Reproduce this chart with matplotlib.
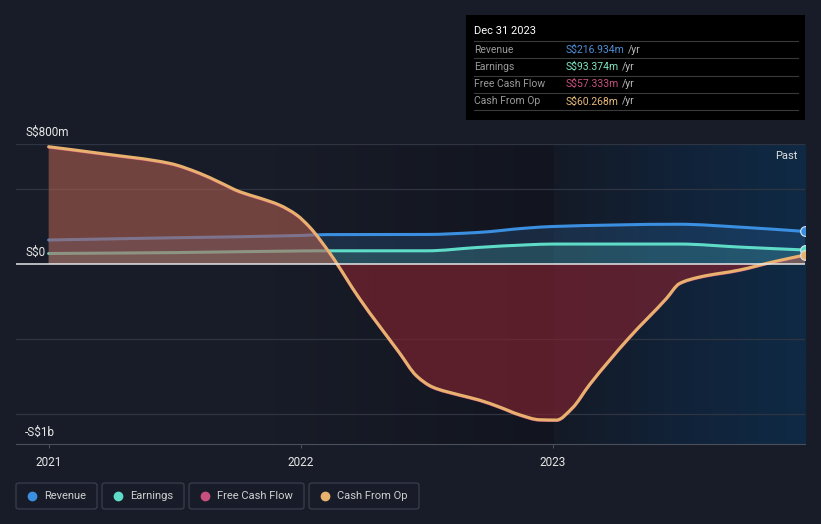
import numpy as np
import matplotlib
matplotlib.use("Agg")
import matplotlib.pyplot as plt
from matplotlib.patches import FancyBboxPatch, Rectangle, PathPatch
from matplotlib.path import Path
from matplotlib.colors import LinearSegmentedColormap

plt.rcParams['font.family'] = ['Roboto', 'DejaVu Sans']

# ---- data (S$ millions, time in fractional years) ----
cfo_t = [2021.000, 2021.203, 2021.481, 2021.599, 2021.678, 2021.758, 2021.837,
         2021.916, 2021.984, 2022.035, 2022.115, 2022.233, 2022.392, 2022.459,
         2022.523, 2022.630, 2022.709, 2022.788, 2022.868, 2022.947, 2023.014,
         2023.077, 2023.145, 2023.303, 2023.450, 2023.502, 2023.581, 2023.740,
         2023.870, 2024.000]
cfo_v = [782, 738, 671, 605, 545, 482, 440,
         393, 327, 247, 73, -230, -593, -745,
         -820, -873, -907, -953, -1005, -1038, -1040,
         -960, -805, -490, -230, -130, -87, -40,
         13, 60.268]
fcf_v = [778, 734, 667, 601, 541, 478, 436,
         389, 323, 243, 69, -234, -597, -749,
         -824, -877, -911, -957, -1009, -1042, -1044,
         -964, -809, -494, -234, -134, -91, -44,
         10, 57.333]

rev_t = [2021.00, 2021.50, 2022.00, 2022.10, 2022.50, 2022.70, 2022.90, 2023.00,
         2023.50, 2023.75, 2024.00]
rev_v = [160, 175, 190, 196, 197, 210, 240, 250, 265, 245, 216.934]
earn_v = [70, 76, 87, 88, 88, 110, 128, 133, 133, 112, 93.374]

year_ticks = [2021, 2022, 2023]
year_labels = ['2021', '2022', '2023']
y_grid = [800, 500, -500, -1000]

C_BG = '#181c28'
C_REV = '#3b8fe0'
C_EARN = '#5fdcc8'
C_FCF = '#c8507e'
C_CFO = '#e8b26e'

W, H = 821, 524
fig = plt.figure(figsize=(W / 100, H / 100), dpi=100, facecolor=C_BG)


def fx(px):
    return px / W


def fy(py):
    return 1 - py / H


def smooth_path(xs, ys):
    # monotone cubic curve drawn as bezier segments (like d3 curveMonotoneX)
    x = np.asarray(xs, float)
    y = np.asarray(ys, float)
    h = np.diff(x)
    d = np.diff(y) / h
    m = np.zeros_like(y)
    m[0], m[-1] = d[0], d[-1]
    for i in range(1, len(y) - 1):
        if d[i - 1] * d[i] <= 0:
            m[i] = 0
        else:
            w1 = 2 * h[i] + h[i - 1]
            w2 = h[i] + 2 * h[i - 1]
            m[i] = (w1 + w2) / (w1 / d[i - 1] + w2 / d[i])
    verts = [(x[0], y[0])]
    codes = [Path.MOVETO]
    for i in range(len(x) - 1):
        verts += [(x[i] + h[i] / 3, y[i] + m[i] * h[i] / 3),
                  (x[i + 1] - h[i] / 3, y[i + 1] - m[i + 1] * h[i] / 3),
                  (x[i + 1], y[i + 1])]
        codes += [Path.CURVE4] * 3
    return verts, codes


def draw_line(ax, xs, ys, color, lw, z):
    v, c = smooth_path(xs, ys)
    ax.add_patch(PathPatch(Path(v, c), facecolor='none', edgecolor=color,
                           lw=lw, zorder=z, capstyle='round'))


def draw_fill(ax, xs, ys, color, alpha, z, clip=None):
    v, c = smooth_path(xs, ys)
    v = v + [(xs[-1], 0), (xs[0], 0), (xs[0], ys[0])]
    c = c + [Path.LINETO, Path.LINETO, Path.CLOSEPOLY]
    p = PathPatch(Path(v, c), facecolor=color, edgecolor='none', alpha=alpha, zorder=z)
    ax.add_patch(p)
    if clip is not None:
        r = Rectangle((2020, clip[0]), 5, clip[1] - clip[0], transform=ax.transData)
        p.set_clip_path(r)


ax = fig.add_axes([fx(16), fy(444), fx(805) - fx(16), fy(144) - fy(444)])
ax.set_facecolor(C_BG)
x0 = 2021 - (48.7 - 16) / 252.4
ax.set_xlim(x0, 2024.0)
ax.set_ylim(-1200, 800)

# past shading gradient
grad = LinearSegmentedColormap.from_list('g', ['#141a26', '#112238', '#0f2a45'])
ax.imshow(np.linspace(0, 1, 200).reshape(1, -1), cmap=grad, aspect='auto',
          extent=[2023.0, 2024.0, -1200, 800], zorder=0)
ax.imshow(np.linspace(0, 1, 200).reshape(1, -1),
          cmap=LinearSegmentedColormap.from_list('d', [C_BG, '#12151f']),
          aspect='auto', extent=[2021.9, 2023.0, -1200, 800], zorder=0)

for g in y_grid:
    ax.axhline(g, color='#2f3442', lw=0.9, zorder=1)

# revenue / earnings
draw_fill(ax, rev_t, rev_v, C_REV, 0.18, 2)
draw_fill(ax, rev_t, earn_v, C_EARN, 0.18, 2)
draw_line(ax, rev_t, rev_v, C_REV, 2.2, 3)
draw_line(ax, rev_t, earn_v, C_EARN, 2.2, 3)

# cash flows
draw_fill(ax, cfo_t, cfo_v, '#b0604f', 0.58, 4, clip=(0, 800))
draw_fill(ax, cfo_t, cfo_v, '#7a2230', 0.7, 4, clip=(-1200, 0))
draw_line(ax, cfo_t, fcf_v, C_FCF, 2.0, 5)
draw_line(ax, cfo_t, cfo_v, C_CFO, 2.2, 6)

ax.axhline(0, color='#e6e6e6', lw=1.1, zorder=7)

# end markers
for val, col in [(rev_v[-1], C_REV), (earn_v[-1], C_EARN), (cfo_v[-1], C_CFO)]:
    ax.plot([rev_t[-1]], [val], 'o', ms=7, color=col, mec='#d8e6f0', mew=0.8, zorder=8)

for s in ['top', 'right', 'left']:
    ax.spines[s].set_visible(False)
ax.spines['bottom'].set_color('#4a4f5c')
ax.set_yticks([])
ax.set_xticks(year_ticks)
ax.set_xticklabels(year_labels, color='#e8e8e8', fontsize=8.5)
ax.tick_params(axis='x', length=3, color='#4a4f5c', pad=6)

ax.text(2023.97, 800 - 80, 'Past', color='#e0e0e0', fontsize=8, ha='right', va='center')

# y labels
fig.text(fx(25), fy(132), 'S$800m', color='#e8e8e8', fontsize=8.5, va='center')
fig.text(fx(25), fy(252), 'S$0', color='#e8e8e8', fontsize=8.5, va='center')
fig.text(fx(25), fy(432), '-S$1b', color='#e8e8e8', fontsize=8.5, va='center')

# tooltip box
fig.patches.append(Rectangle((fx(466), fy(120)), fx(805) - fx(466), fy(15) - fy(120),
                             transform=fig.transFigure, facecolor='#000000',
                             edgecolor='none', zorder=10))
fig.text(fx(474), fy(31), 'Dec 31 2023', color='#ffffff', fontsize=8,
         va='center', zorder=11)
rows = [('Revenue', 'S$216.934m', '#4d8fd6'),
        ('Earnings', 'S$93.374m', '#7ee6c0'),
        ('Free Cash Flow', 'S$57.333m', '#c8507e'),
        ('Cash From Op', 'S$60.268m', '#e8bb7a')]
for i, (lab, val, col) in enumerate(rows):
    yl = 41 + 17.3 * i
    fig.add_artist(plt.Line2D([fx(474), fx(798)], [fy(yl), fy(yl)],
                              transform=fig.transFigure, color='#3a3a3a', lw=0.8, zorder=11))
    yc = yl + 8.6
    fig.text(fx(474), fy(yc), lab, color='#9a9a9a', fontsize=7.5, va='center', zorder=11)
    t = fig.text(fx(566), fy(yc), val, color=col, fontsize=7.5, va='center', zorder=11)
    fig.canvas.draw()
    bb = t.get_window_extent()
    fig.text(bb.x1 / W + fx(3), fy(yc), '/yr', color='#bbbbbb', fontsize=7.5,
             va='center', zorder=11)
fig.add_artist(plt.Line2D([fx(474), fx(798)], [fy(110), fy(110)],
                          transform=fig.transFigure, color='#3a3a3a', lw=0.8, zorder=11))

# legend
legend = [('Revenue', C_REV, 16, 97), ('Earnings', C_EARN, 102, 184),
          ('Free Cash Flow', C_FCF, 189, 304), ('Cash From Op', C_CFO, 309, 419)]
for lab, col, xa, xb in legend:
    fig.patches.append(FancyBboxPatch((fx(xa), fy(509)), fx(xb) - fx(xa), fy(483) - fy(509),
                                      boxstyle='round,pad=0,rounding_size=0.004',
                                      transform=fig.transFigure, facecolor='none',
                                      edgecolor='#3a3f4d', lw=0.9))
    fig.add_artist(plt.Line2D([fx(xa + 16)], [fy(496)], marker='o', ms=6,
                              color=col, transform=fig.transFigure))
    fig.text(fx(xa + 28), fy(496), lab, color='#d0d0d0', fontsize=8, va='center')

fig.savefig('out.png', dpi=100, facecolor=C_BG)
